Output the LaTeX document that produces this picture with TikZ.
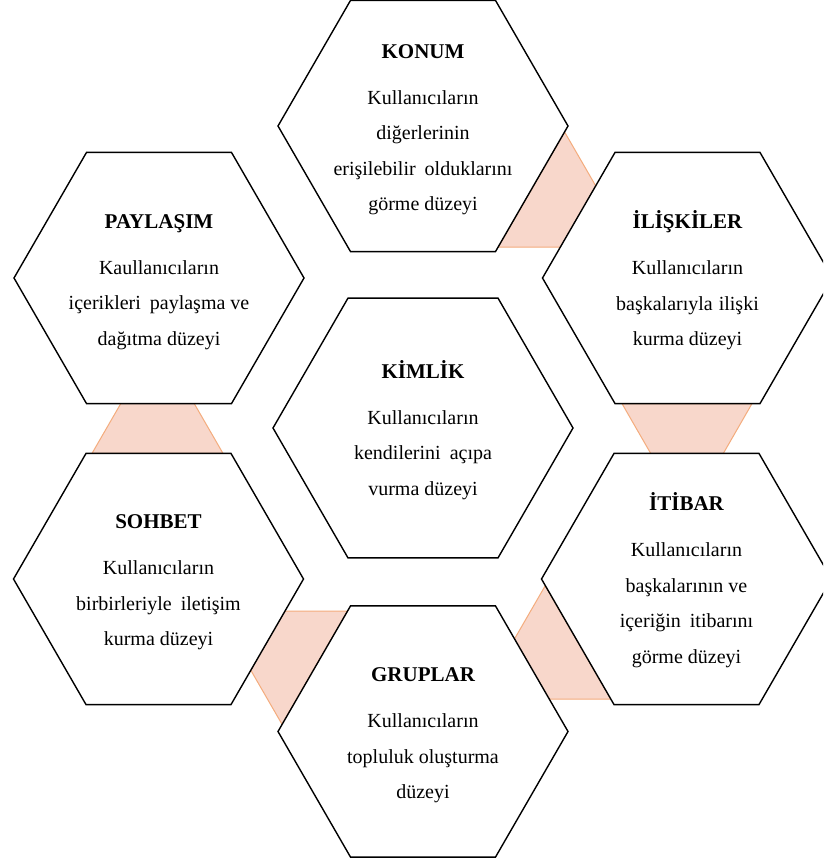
\documentclass[tikz,border=0pt]{standalone}
\usepackage{fontspec}
\setmainfont{Liberation Serif}
\usetikzlibrary{shapes.geometric}
\definecolor{gapfill}{RGB}{248,215,203}
\definecolor{gapline}{RGB}{244,172,125}
\newcommand{\dsp}{\hspace{9pt}}
\newcommand{\ttl}[1]{{\fontsize{21}{35.5}\selectfont\bfseries\strut #1}\\[10.5pt]}
\begin{document}
\begin{tikzpicture}[x=1pt,y=-1pt,
  hexa/.style={draw=black, line width=1.4pt, fill=white, regular polygon, regular polygon sides=6, inner sep=0pt, outer sep=0pt, minimum size=290pt},
  bighexa/.style={hexa, minimum size=300pt},
  gap/.style={fill=gapfill, draw=gapline, line width=1pt},
  txt/.style={align=center, font=\fontsize{20}{35.5}\selectfont, inner sep=0pt}]
\clip (0,0) rectangle (823,861);
\fill[white] (0,0) rectangle (823,861);
% gap triangles (partly hidden behind the hexagons)
\filldraw[gap] (564.6,132) -- (498.2,247) -- (631.0,247) -- cycle;
\filldraw[gap] (157.5,340) -- (92,453.4) -- (223,453.4) -- cycle;
\filldraw[gap] (622,403.6) -- (752,403.6) -- (687,516.5) -- cycle;
\filldraw[gap] (545.3,585.6) -- (479.8,699) -- (610.8,699) -- cycle;
\filldraw[gap] (216.6,611) -- (347.6,611) -- (282.1,724.4) -- cycle;
% hexagons
\node[hexa] (konum) at (423,126) {};
\node[hexa] (paylasim) at (159,278) {};
\node[hexa] (iliskiler) at (687.5,278) {};
\node[bighexa] (kimlik) at (423,428) {};
\node[hexa] (sohbet) at (158.5,579) {};
\node[hexa] (itibar) at (686.5,579) {};
\node[hexa] (gruplar) at (423,731.5) {};
% texts
\node[txt] (konumT) at (423,127.5) {\ttl{KONUM}Kullanıcıların\\diğerlerinin\\erişilebilir\dsp olduklarını\\görme düzeyi\strut};
\node[txt] (paylasimT) at (159,279.5) {\ttl{PAYLAŞIM}Kaullanıcıların\\içerikleri\dsp paylaşma ve\\dağıtma düzeyi\strut};
\node[txt] (iliskilerT) at (687.5,280) {\ttl{İLİŞKİLER}Kullanıcıların\\başkalarıyla\hspace{6pt}ilişki\\kurma düzeyi\strut};
\node[txt] (kimlikT) at (423,429.5) {\ttl{KİMLİK}Kullanıcıların\\kendilerini\dsp açıpa\\vurma düzeyi\strut};
\node[txt] (sohbetT) at (158.5,580) {\ttl{SOHBET}Kullanıcıların\\birbirleriyle\dsp iletişim\\kurma düzeyi\strut};
\node[txt] (itibarT) at (686.5,580) {\ttl{İTİBAR}Kullanıcıların\\başkalarının ve\\içeriğin\dsp itibarını\\görme düzeyi\strut};
\node[txt] (gruplarT) at (423,733) {\ttl{GRUPLAR}Kullanıcıların\\topluluk oluşturma\\düzeyi\strut};
\end{tikzpicture}
\end{document}
